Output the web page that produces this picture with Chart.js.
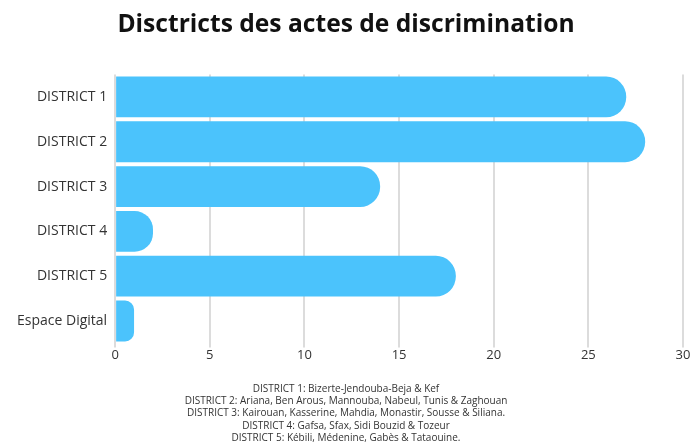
<!DOCTYPE html>
<html>
<head>
<meta charset="utf-8">
<script src="https://cdn.jsdelivr.net/npm/chart.js@4/dist/chart.umd.min.js"></script>
<style>
  html, body { margin: 0; padding: 0; background: #fff; }
  #wrap { width: 693px; height: 444px; position: relative; }
</style>
</head>
<body>
<div id="wrap"><canvas id="c" width="693" height="444"></canvas></div>
<script>
const categories = ["DISTRICT 1", "DISTRICT 2", "DISTRICT 3", "DISTRICT 4", "DISTRICT 5", "Espace Digital"];
const values = [27, 28, 14, 2, 18, 1];
const titleText = "Disctricts des actes de discrimination";
const footnotes = [
  "DISTRICT 1: Bizerte-Jendouba-Beja & Kef",
  "DISTRICT 2: Ariana, Ben Arous, Mannouba, Nabeul, Tunis & Zaghouan",
  "DISTRICT 3: Kairouan, Kasserine, Mahdia, Monastir, Sousse & Siliana.",
  "DISTRICT 4: Gafsa, Sfax, Sidi Bouzid & Tozeur",
  "DISTRICT 5: Kébili, Médenine, Gabès & Tataouine."
];
const FONT = "'Open Sans', 'Noto Sans', sans-serif";

new Chart(document.getElementById('c'), {
  type: 'bar',
  data: {
    labels: categories,
    datasets: [{
      data: values,
      backgroundColor: '#4BC3FC',
      borderRadius: 20,
      borderSkipped: 'start',
      categoryPercentage: 0.91,
      barPercentage: 1.0
    }]
  },
  options: {
    indexAxis: 'y',
    responsive: false,
    animation: false,
    layout: { padding: { left: 9, right: 10, top: 0, bottom: 0 } },
    plugins: {
      legend: { display: false },
      tooltip: { enabled: false },
      title: {
        display: true,
        text: titleText,
        color: '#111',
        font: { family: FONT, size: 24.6, weight: 'bold' },
        padding: { top: 10, bottom: 35 }
      },
      subtitle: {
        display: true,
        position: 'bottom',
        text: footnotes,
        color: '#333',
        font: { family: FONT, size: 10, lineHeight: 1.22 },
        padding: { top: 20, bottom: 0 }
      }
    },
    scales: {
      x: {
        min: 0, max: 30,
        ticks: { stepSize: 5, color: '#333', font: { family: FONT, size: 13 }, padding: 0 },
        grid: { color: '#dcdcdc', lineWidth: 2, drawTicks: true, tickLength: 4 },
        border: { display: false }
      },
      y: {
        ticks: { color: '#333', font: { family: FONT, size: 14 }, padding: 8 },
        grid: { display: false, drawTicks: false },
        border: { display: false }
      }
    }
  }
});
</script>
</body>
</html>
